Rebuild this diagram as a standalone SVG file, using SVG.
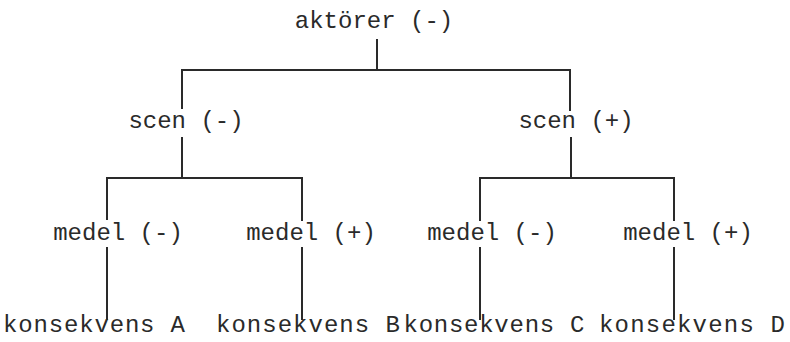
<svg xmlns="http://www.w3.org/2000/svg" width="790" height="342" viewBox="0 0 790 342">
<style>
text{font-family:"Liberation Mono","Courier New",monospace;font-size:24px;fill:#2a2a2a;text-anchor:middle}
.c line{stroke:#2a2a2a;stroke-width:2;fill:none}
</style>
<rect width="790" height="342" fill="#fff"/>
<g class="c" id="connectors">
<line x1="377" y1="39" x2="377" y2="70"/>
<line x1="181" y1="70" x2="571" y2="70"/>
<line x1="182" y1="69" x2="182" y2="109"/>
<line x1="570" y1="69" x2="570" y2="111"/>
<line x1="182" y1="137" x2="182" y2="178"/>
<line x1="106" y1="178" x2="303" y2="178"/>
<line x1="107" y1="177" x2="107" y2="220"/>
<line x1="302" y1="177" x2="302" y2="221"/>
<line x1="571" y1="137" x2="571" y2="178"/>
<line x1="479" y1="178" x2="675" y2="178"/>
<line x1="480" y1="177" x2="480" y2="221"/>
<line x1="674" y1="177" x2="674" y2="221"/>
<line x1="107" y1="247" x2="107" y2="320"/>
<line x1="302" y1="247" x2="302" y2="320"/>
<line x1="480" y1="247" x2="480" y2="320"/>
<line x1="674" y1="247" x2="674" y2="320"/>
</g>
<g id="aktorer"><text x="374" y="28">aktörer (-)</text></g>
<g id="scen-minus"><text x="186" y="128">scen (-)</text></g>
<g id="scen-plus"><text x="576" y="128">scen (+)</text></g>
<g id="medel-1"><text x="118" y="240">medel (-)</text></g>
<g id="medel-2"><text x="311" y="240">medel (+)</text></g>
<g id="medel-3"><text x="492" y="240">medel (-)</text></g>
<g id="medel-4"><text x="688" y="240">medel (+)</text></g>
<g id="kons-a"><text x="94" y="332" textLength="182">konsekvens A</text></g>
<g id="kons-b"><text x="308" y="332" textLength="184">konsekvens B</text></g>
<g id="kons-c"><text x="494" y="332" textLength="181">konsekvens C</text></g>
<g id="kons-d"><text x="692" y="332" textLength="186">konsekvens D</text></g>
</svg>
